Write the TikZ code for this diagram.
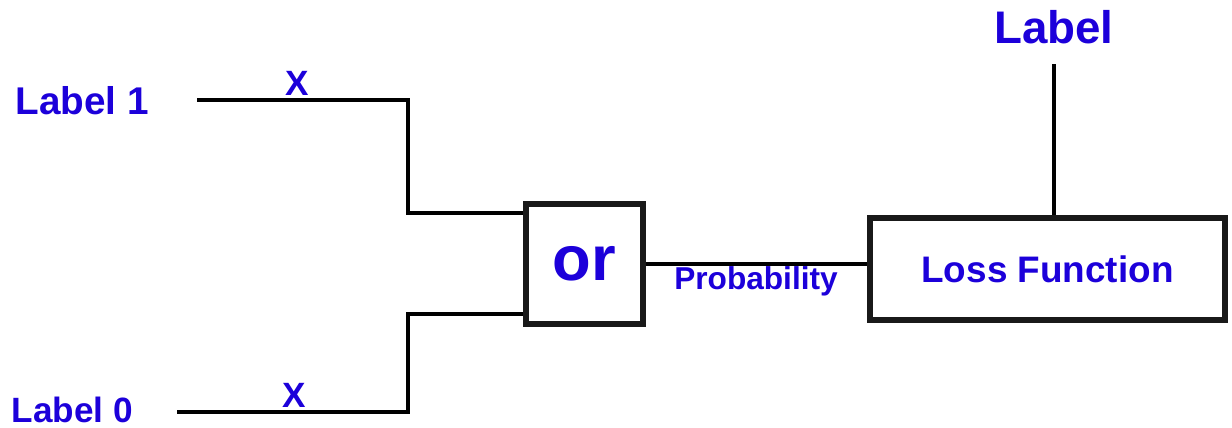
\documentclass[tikz,border=0pt]{standalone}
\usepackage{fontspec}
\setmainfont{Liberation Sans}
\usetikzlibrary{positioning}
\definecolor{inkblue}{RGB}{28,0,218}

\tikzset{
  txt/.style={text=inkblue, font=\bfseries\fontsize{#1}{#1}\selectfont, inner sep=2pt},
  wire/.style={black, line width=2.3pt},
  blk/.style={draw=black!90, line width=3.7pt, inner sep=0pt, align=center}
}

\begin{document}
\begin{tikzpicture}

  \useasboundingbox (0,0) rectangle (24.64,8.54);

  % ── Inputs ────────────────────────────────────────────────────────────
  \node[txt=22] (lab1) at (1.64, 6.53) {Label 1};
  \node[txt=20] (lab0) at (1.45, 0.35) {Label 0};

  \coordinate (s1) at (3.94, 6.54);
  \coordinate (s0) at (3.54, 0.30);
  \coordinate (j1) at (8.16, 4.28);
  \coordinate (j0) at (8.16, 2.26);

  % ── Blocks ────────────────────────────────────────────────────────────
  \node[blk, minimum width=2.34cm, minimum height=2.40cm, txt=36] (or) at (11.69, 3.26) {or};
  \node[blk, minimum width=7.10cm, minimum height=2.04cm, txt=21] (loss) at (20.95, 3.16) {Loss Function};
  \node[txt=26] (lab) at (21.08, 7.99) {Label};

  % ── Wires ─────────────────────────────────────────────────────────────
  \draw[wire] (s1) -| (j1) -- (j1 -| or.west);
  \draw[wire] (s0) -| (j0) -- (j0 -| or.west);
  \draw[wire] (or.east) -- (or.east -| loss.west);
  \draw[wire, shorten <=0.32cm] (lab.south) -- (lab.south |- loss.north);

  % weights on the input wires
  \node[txt=20, anchor=south] (x1) at (5.94, 6.56) {X};
  \node[txt=20, anchor=south] (x0) at (5.88, 0.32) {X};

  % output of the or block
  \node[txt=18, anchor=base] (prob) at (15.12, 2.74) {Probability};

\end{tikzpicture}
\end{document}
